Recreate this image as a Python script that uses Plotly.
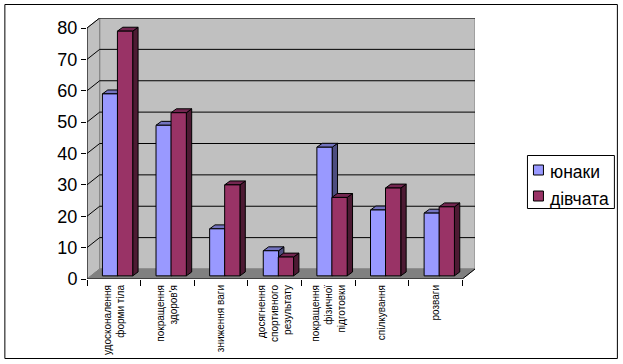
import plotly.graph_objects as go

categories = ["удосконалення<br>форми тіла", "покращення<br>здоров'я", "зниження ваги",
              "досягнення<br>спортивного<br>результату", "покращення<br>фізичної<br>підготовки",
              "спілкування", "розваги"]
series_names = ["юнаки", "дівчата"]
boys = [58, 48, 15, 8, 41, 21, 20]
girls = [78, 52, 29, 6, 25, 28, 22]
y_ticks = [0, 10, 20, 30, 40, 50, 60, 70, 80]

W, H = 623, 364
L, R, T, B = 86.7, 475.0, 18.0, 279.0
N = len(categories)
DX, DY = 0.2365, 3.19      # wall depth in axis units
BAR_W = 0.285
LIFT = 1.0                 # bars stand slightly in front of the wall, on the floor
BDX, BDY = 0.1, 1.25       # bar depth in axis units
FONT = "Liberation Sans"
BLUE, RED = "#9999FF", "#993366"
xr = [0, N + DX]
yr = [0, 80 + DY]


def px(x):
    return (x - L) / (R - L)


def py(y):
    return (B - y) / (B - T)


def poly(xs, ys, fill, line="black", width=1):
    return go.Scatter(x=xs, y=ys, mode="lines", fill="toself", fillcolor=fill,
                      line=dict(color=line, width=width), hoverinfo="skip", showlegend=False)


def seg(xs, ys, color="black", width=1):
    return go.Scatter(x=xs, y=ys, mode="lines", line=dict(color=color, width=width),
                      hoverinfo="skip", showlegend=False)


fig = go.Figure()
# walls and floor
fig.add_trace(poly([DX, N + DX, N + DX, DX, DX], [DY, DY, 80 + DY, 80 + DY, DY], "#C0C0C0", "#808080"))
fig.add_trace(poly([0, DX, DX, 0, 0], [0, DY, 80 + DY, 80, 0], "#C0C0C0", "#808080"))
fig.add_trace(poly([0, N, N + DX, DX, 0], [0, 0, DY, DY, 0], "#808080", "#808080"))
# grid
for v in y_ticks[1:]:
    fig.add_trace(seg([0, DX, N + DX], [v, v + DY, v + DY]))
fig.add_trace(seg([N, N + DX], [0, DY]))
# axis lines
fig.add_trace(seg([0, 0], [0, 80]))
fig.add_trace(seg([0, N], [0, 0]))


def faces(vals, off, top, side):
    for i, v in enumerate(vals):
        x0 = i + off - BAR_W / 2
        x1 = x0 + BAR_W
        y0, y1 = LIFT, LIFT + v
        fig.add_trace(poly([x1, x1 + BDX, x1 + BDX, x1, x1],
                           [y0, y0 + BDY, y1 + BDY, y1, y0], side))
        fig.add_trace(poly([x0, x1, x1 + BDX, x0 + BDX, x0],
                           [y1, y1, y1 + BDY, y1 + BDY, y1], top))


faces(boys, 0.43, "#7373BF", "#4D4D80")
faces(girls, 0.71, "#732650", "#4D1A33")

fig.add_trace(go.Bar(x=[i + 0.43 for i in range(N)], y=boys, base=LIFT, width=BAR_W, name=series_names[0],
                     marker=dict(color=BLUE, line=dict(color="black", width=1)),
                     xaxis="x2", yaxis="y2", showlegend=False))
fig.add_trace(go.Bar(x=[i + 0.71 for i in range(N)], y=girls, base=LIFT, width=BAR_W, name=series_names[1],
                     marker=dict(color=RED, line=dict(color="black", width=1)),
                     xaxis="x2", yaxis="y2", showlegend=False))

shapes = [
    dict(type="rect", xref="paper", yref="paper", x0=px(4.5), x1=px(617.5), y0=py(4.5), y1=py(358.5),
         line=dict(color="black", width=1), fillcolor="rgba(0,0,0,0)", layer="below"),
]
# legend box and swatches
shapes.append(dict(type="rect", xref="paper", yref="paper", x0=px(527.5), x1=px(614.5), y0=py(155.5), y1=py(208.5),
                   line=dict(color="black", width=1), fillcolor="white"))
for (a, b), c in zip([(165, 175), (191, 201)], [BLUE, RED]):
    shapes.append(dict(type="rect", xref="paper", yref="paper", x0=px(533.5), x1=px(543.5), y0=py(a), y1=py(b),
                       line=dict(color="black", width=1), fillcolor=c))
annotations = [
    dict(text=name, xref="paper", yref="paper", x=px(550), y=py(cy), xanchor="left", yanchor="middle",
         showarrow=False, font=dict(size=17.5, family=FONT, color="black"), borderpad=0, borderwidth=0)
    for name, cy in zip(series_names, [172, 199])
]

fig.update_layout(
    width=W, height=H,
    autosize=False,
    margin=dict(l=L, r=W - R, t=T, b=H - B, pad=0, autoexpand=False),
    paper_bgcolor="white", plot_bgcolor="white",
    font=dict(family=FONT, color="black"),
    barmode="overlay",
    shapes=shapes,
    annotations=annotations,
    showlegend=False,
    xaxis=dict(range=xr, tickmode="array", tickvals=[i + 0.5 for i in range(N)], ticktext=categories,
               tickangle=-90, ticks="", showgrid=False, zeroline=False, showline=False, ticklabelstandoff=3,
               tickfont=dict(size=10, family=FONT, color="black"), automargin=False),
    yaxis=dict(range=yr, tickmode="array", tickvals=y_ticks, ticks="outside", ticklen=5, tickcolor="black",
               showgrid=False, zeroline=False, showline=False,
               tickfont=dict(size=18, family=FONT, color="black"), automargin=False),
    xaxis2=dict(range=xr, overlaying="x", anchor="y", side="bottom", tickmode="array",
                tickvals=list(range(N + 1)), ticktext=[""] * (N + 1), ticks="outside", ticklen=6,
                tickcolor="black", showgrid=False, zeroline=False, showline=False),
    yaxis2=dict(range=yr, overlaying="y", anchor="x", showgrid=False, zeroline=False, showline=False,
                showticklabels=False, ticks=""),
    hovermode=False,
)
fig.write_html("out.html", config=dict(displayModeBar=False),
               post_script="document.body.style.margin='0';document.documentElement.style.overflow='hidden';")
